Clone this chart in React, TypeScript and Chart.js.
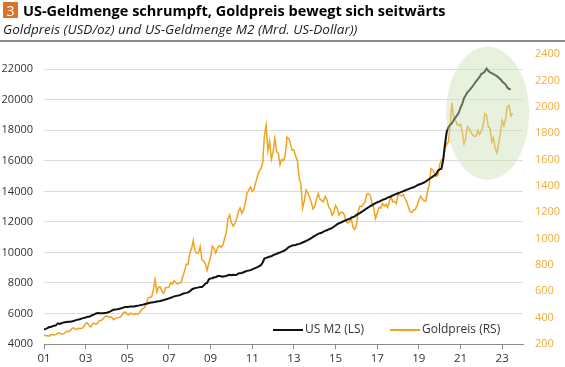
import { useEffect, useRef } from "react";
import { Chart, registerables } from "chart.js";

Chart.register(...registerables);

// ---------- data ----------
const START_YEAR = 2001; // monthly observations starting January 2001

// US M2 (Mrd. USD), monthly, Jan 2001 .. Jun 2023
const M2_VALUES = [
  4950, 4990, 5040, 5110, 5120, 5170, 5200, 5230, 5350, 5320, 5360, 5400,
  5420, 5440, 5450, 5460, 5480, 5500, 5550, 5580, 5600, 5640, 5680, 5710,
  5740, 5780, 5790, 5840, 5900, 5940, 6000, 6030, 6020, 6010, 6010, 6030,
  6050, 6080, 6120, 6180, 6240, 6260, 6270, 6290, 6330, 6360, 6400, 6420,
  6430, 6440, 6450, 6450, 6460, 6490, 6500, 6530, 6560, 6580, 6610, 6640,
  6670, 6700, 6720, 6740, 6750, 6780, 6800, 6820, 6850, 6880, 6920, 6950,
  6990, 7030, 7070, 7120, 7140, 7170, 7190, 7240, 7290, 7330, 7350, 7380,
  7450, 7560, 7620, 7660, 7690, 7710, 7740, 7740, 7830, 7960, 8000, 8240,
  8300, 8310, 8370, 8370, 8450, 8450, 8440, 8410, 8440, 8460, 8510, 8540,
  8510, 8540, 8520, 8530, 8620, 8640, 8650, 8700, 8750, 8790, 8810, 8840,
  8890, 8940, 8990, 9040, 9100, 9160, 9340, 9600, 9640, 9680, 9730, 9740,
  9820, 9860, 9900, 9960, 9990, 10050, 10090, 10150, 10240, 10350, 10400, 10450,
  10470, 10490, 10530, 10560, 10600, 10650, 10700, 10750, 10810, 10870, 10930, 11020,
  11090, 11150, 11210, 11260, 11290, 11360, 11410, 11450, 11510, 11550, 11610, 11680,
  11760, 11850, 11910, 11950, 12010, 12070, 12110, 12160, 12200, 12260, 12310, 12360,
  12440, 12520, 12580, 12660, 12720, 12810, 12890, 12960, 13030, 13090, 13160, 13230,
  13280, 13330, 13380, 13440, 13480, 13530, 13590, 13630, 13680, 13740, 13790, 13830,
  13880, 13920, 13970, 14020, 14060, 14110, 14150, 14200, 14240, 14270, 14320, 14400,
  14450, 14480, 14530, 14580, 14650, 14730, 14810, 14890, 14970, 15050, 15130, 15350,
  15440, 15480, 16050, 17050, 17870, 18200, 18350, 18450, 18660, 18830, 18980, 19160,
  19480, 19730, 20100, 20300, 20500, 20600, 20750, 20900, 21050, 21200, 21350, 21500,
  21700, 21750, 21850, 22050, 21900, 21800, 21750, 21680, 21620, 21550, 21450, 21350,
  21200, 21100, 21000, 20800, 20700, 20690,
];

// Goldpreis (USD/oz), monthly, Jan 2001 .. Jul 2023
const GOLD_VALUES = [
  266, 262, 263, 260, 272, 270, 268, 273, 283, 283, 276, 276,
  282, 296, 294, 302, 314, 322, 314, 310, 319, 317, 319, 333,
  357, 360, 340, 328, 356, 356, 351, 360, 379, 379, 389, 407,
  414, 405, 406, 404, 384, 392, 398, 400, 405, 420, 439, 442,
  424, 423, 434, 429, 422, 430, 424, 437, 456, 470, 476, 510,
  549, 555, 557, 610, 690, 596, 633, 632, 598, 585, 627, 629,
  631, 665, 654, 679, 666, 655, 665, 665, 712, 754, 806, 803,
  889, 922, 985, 909, 888, 890, 939, 839, 829, 806, 760, 816,
  858, 943, 924, 890, 928, 945, 934, 949, 996, 1043, 1150, 1180,
  1118, 1095, 1113, 1148, 1205, 1232, 1193, 1215, 1271, 1343, 1370, 1391,
  1356, 1372, 1424, 1474, 1512, 1529, 1572, 1780, 1860, 1665, 1739, 1600,
  1660, 1760, 1660, 1650, 1560, 1600, 1590, 1630, 1770, 1760, 1720, 1670,
  1671, 1627, 1593, 1460, 1414, 1230, 1286, 1370, 1349, 1316, 1275, 1225,
  1244, 1300, 1340, 1299, 1288, 1279, 1320, 1296, 1239, 1222, 1176, 1200,
  1251, 1227, 1178, 1198, 1199, 1182, 1131, 1117, 1125, 1159, 1086, 1068,
  1097, 1200, 1246, 1242, 1260, 1276, 1337, 1341, 1326, 1267, 1236, 1152,
  1192, 1234, 1231, 1266, 1246, 1260, 1236, 1283, 1314, 1279, 1282, 1265,
  1331, 1331, 1324, 1335, 1303, 1282, 1238, 1202, 1198, 1215, 1221, 1250,
  1291, 1320, 1300, 1286, 1284, 1359, 1413, 1530, 1520, 1495, 1471, 1480,
  1560, 1597, 1592, 1683, 1716, 1732, 1847, 2030, 1922, 1900, 1866, 1858,
  1867, 1808, 1718, 1760, 1850, 1834, 1807, 1785, 1776, 1777, 1820, 1790,
  1817, 1856, 1948, 1937, 1849, 1836, 1733, 1765, 1681, 1650, 1726, 1797,
  1898, 1855, 1912, 2000, 2010, 1930, 1950,
];

const X_TICKS = [2001, 2003, 2005, 2007, 2009, 2011, 2013, 2015, 2017, 2019, 2021, 2023];
const LEFT_TICKS = [4000, 6000, 8000, 10000, 12000, 14000, 16000, 18000, 20000, 22000];
const RIGHT_TICKS = [200, 400, 600, 800, 1000, 1200, 1400, 1600, 1800, 2000, 2200, 2400];

const CHART_NUMBER = "3";
const TITLE = "US-Geldmenge schrumpft, Goldpreis bewegt sich seitwärts";
const SUBTITLE = "Goldpreis (USD/oz) und US-Geldmenge M2 (Mrd. US-Dollar))";
const LEGEND_LABELS = ["US M2 (LS)", "Goldpreis (RS)"];

// highlighted region (data units: year on x, gold price on right axis)
const HIGHLIGHT_CENTER = [2022.3, 1950];
const HIGHLIGHT_RADIUS = [2.0, 505];

// ---------- styles ----------
const FONT = '"Open Sans", "Noto Sans", sans-serif';
const M2_COLOR = "#111111";
const GOLD_COLOR = "#f0a31e";
const GOLD_LABEL_COLOR = "#f2ad3a";
const TEXT_COLOR = "#333333";

const toPoints = (vals: number[]) => vals.map((v, i) => ({ x: START_YEAR + i / 12, y: v }));

const headerPlugin = {
  id: "header",
  beforeDraw(chart: any) {
    const ctx = chart.ctx as CanvasRenderingContext2D;
    ctx.save();
    ctx.fillStyle = "#ffffff";
    ctx.fillRect(0, 0, chart.width, chart.height);
    // number box
    ctx.fillStyle = "#d8742a";
    ctx.fillRect(3, 2, 15, 16);
    ctx.fillStyle = "#ffffff";
    ctx.font = `14px ${FONT}`;
    ctx.textAlign = "center";
    ctx.textBaseline = "alphabetic";
    ctx.fillText(CHART_NUMBER, 10.5, 15.5);
    // title
    ctx.textAlign = "left";
    ctx.fillStyle = "#000000";
    ctx.font = `bold 14.5px ${FONT}`;
    ctx.fillText(TITLE, 23, 16);
    // subtitle
    ctx.fillStyle = "#222222";
    ctx.font = `italic 13.5px ${FONT}`;
    ctx.fillText(SUBTITLE, 3, 34);
    // separator
    ctx.fillStyle = "#8c8c8c";
    ctx.fillRect(0, 40, chart.width, 2);
    ctx.restore();
  },
};

const highlightPlugin = {
  id: "highlight",
  afterDatasetsDraw(chart: any) {
    const { x, y1 } = chart.scales;
    const ctx = chart.ctx as CanvasRenderingContext2D;
    const cx = x.getPixelForValue(HIGHLIGHT_CENTER[0]);
    const cy = y1.getPixelForValue(HIGHLIGHT_CENTER[1]);
    const rx = Math.abs(x.getPixelForValue(HIGHLIGHT_CENTER[0] + HIGHLIGHT_RADIUS[0]) - cx);
    const ry = Math.abs(y1.getPixelForValue(HIGHLIGHT_CENTER[1] + HIGHLIGHT_RADIUS[1]) - cy);
    ctx.save();
    ctx.beginPath();
    ctx.ellipse(cx, cy, rx, ry, 0, 0, Math.PI * 2);
    ctx.fillStyle = "rgba(205, 225, 180, 0.45)";
    ctx.fill();
    ctx.restore();
  },
};

const legendPlugin = {
  id: "customLegend",
  afterDraw(chart: any) {
    const ctx = chart.ctx as CanvasRenderingContext2D;
    const area = chart.chartArea;
    const y = area.bottom - 14;
    const items = [
      { x: area.right - 250, color: M2_COLOR, label: LEGEND_LABELS[0] },
      { x: area.right - 133, color: GOLD_COLOR, label: LEGEND_LABELS[1] },
    ];
    ctx.save();
    ctx.font = `12px ${FONT}`;
    ctx.textBaseline = "middle";
    ctx.textAlign = "left";
    for (const it of items) {
      ctx.strokeStyle = it.color;
      ctx.lineWidth = 2;
      ctx.beginPath();
      ctx.moveTo(it.x, y);
      ctx.lineTo(it.x + 30, y);
      ctx.stroke();
      ctx.fillStyle = TEXT_COLOR;
      ctx.fillText(it.label, it.x + 32, y);
    }
    ctx.restore();
  },
};

const plain = (v: any) => String(v);

export default function App() {
  const ref = useRef<HTMLCanvasElement | null>(null);

  useEffect(() => {
    document.body.style.margin = "0";
    const canvas = ref.current;
    if (!canvas) return;
    const chart = new Chart(canvas, {
      type: "line",
      data: {
        datasets: [
          {
            label: LEGEND_LABELS[0],
            data: toPoints(M2_VALUES),
            yAxisID: "y",
            borderColor: M2_COLOR,
            borderWidth: 2,
            pointRadius: 0,
            tension: 0,
          },
          {
            label: LEGEND_LABELS[1],
            data: toPoints(GOLD_VALUES),
            yAxisID: "y1",
            borderColor: GOLD_COLOR,
            borderWidth: 1.5,
            pointRadius: 0,
            tension: 0,
          },
        ],
      },
      options: {
        responsive: false,
        animation: false,
        devicePixelRatio: 1,
        layout: { padding: { top: 54, left: 0, right: 0, bottom: 0 } },
        plugins: { legend: { display: false }, tooltip: { enabled: false } },
        scales: {
          x: {
            type: "linear",
            min: 2001,
            max: 2024,
            afterBuildTicks: (s: any) => {
              s.ticks = X_TICKS.map((v) => ({ value: v }));
            },
            afterFit: (s: any) => {
              s.height = 23;
            },
            ticks: {
              callback: (v: any) => String(v).slice(2),
              font: { family: FONT, size: 11.5 },
              color: TEXT_COLOR,
              padding: 3,
              maxRotation: 0,
              autoSkip: false,
            },
            grid: { drawOnChartArea: false, drawTicks: true, tickLength: 5, color: "#8c8c8c" },
            border: { display: true, color: "#8c8c8c", width: 1 },
          },
          y: {
            position: "left",
            min: 4000,
            max: 23000,
            afterBuildTicks: (s: any) => {
              s.ticks = LEFT_TICKS.map((v) => ({ value: v }));
            },
            afterFit: (s: any) => {
              s.width = 44;
            },
            ticks: { callback: plain, font: { family: FONT, size: 11 }, color: TEXT_COLOR, padding: 11 },
            grid: {
              drawTicks: false,
              color: (c: any) => (c.tick && c.tick.value === LEFT_TICKS[0] ? "rgba(0,0,0,0)" : "#dcdcdc"),
              lineWidth: 1,
            },
            border: { display: false },
          },
          y1: {
            position: "right",
            min: 200,
            max: 2400,
            afterBuildTicks: (s: any) => {
              s.ticks = RIGHT_TICKS.map((v) => ({ value: v }));
            },
            afterFit: (s: any) => {
              s.width = 42;
            },
            ticks: { callback: plain, font: { family: FONT, size: 11 }, color: GOLD_LABEL_COLOR, padding: 12 },
            grid: { display: false, drawTicks: false },
            border: { display: false },
          },
        },
      },
      plugins: [headerPlugin, highlightPlugin, legendPlugin],
    } as any);
    return () => chart.destroy();
  }, []);

  return (
    <div style={{ width: 565, height: 367, position: "relative" }}>
      <canvas ref={ref} width={565} height={367} style={{ display: "block" }} />
    </div>
  );
}
